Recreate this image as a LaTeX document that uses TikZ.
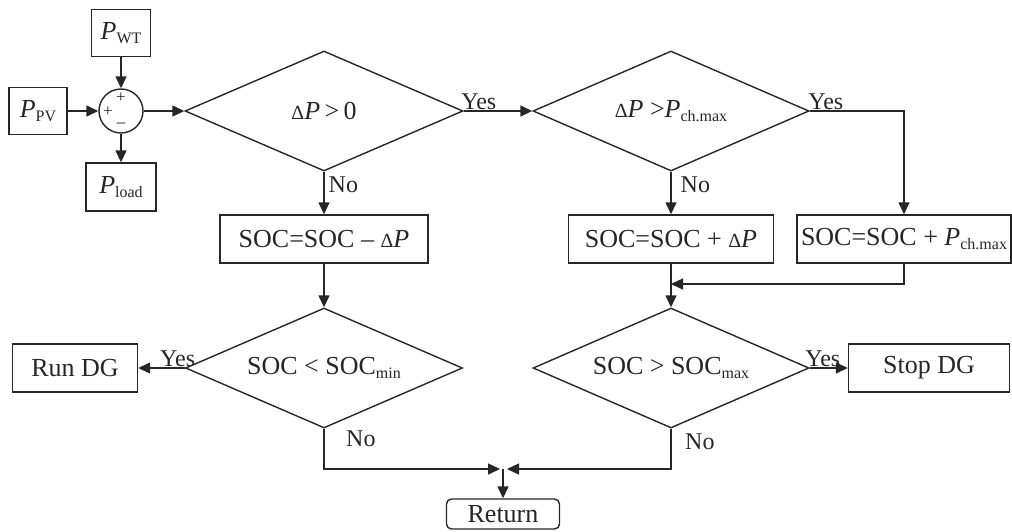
\documentclass[tikz,border=0pt]{standalone}
\usepackage{fontspec}
\setmainfont{Liberation Serif}
\usetikzlibrary{shapes.geometric,arrows.meta}

\newcommand{\lowsub}[1]{\raisebox{-0.35ex}{\fontsize{16}{16}\selectfont #1}}
\newcommand{\dlt}{{\fontsize{20}{20}\selectfont Δ}}

\tikzstyle{blk} = [draw, rectangle, inner sep=0pt, minimum height=48pt, line width=1.4pt]
\tikzstyle{cond} = [draw, diamond, inner sep=0pt, minimum width=276pt, minimum height=120pt, line width=1.4pt]
\tikzstyle{ans} = [inner sep=1pt, font=\fontsize{24}{24}\selectfont]
\tikzstyle{flow} = [-{Triangle[length=12pt,width=11pt]}, line width=1.4pt]

\begin{document}
\begin{tikzpicture}[x=1pt, y=-1pt, font=\fontsize{26}{30}\selectfont, color=black!85]
    \useasboundingbox (0,0) rectangle (1012,531);

    % power balance
    \node[draw, circle, minimum size=44pt, inner sep=0pt, line width=1.4pt] (sum) at (121,111) {};
    \node[font=\fontsize{17}{17}\selectfont] at (121,98) {+};
    \node[font=\fontsize{17}{17}\selectfont] at (108,112) {+};
    \node[font=\fontsize{17}{17}\selectfont] at (121,125) {--};
    \node[blk, minimum width=59pt, minimum height=47pt] (pwt) at (121,33) {\textit{P}\lowsub{WT}};
    \node[blk, minimum width=58pt, minimum height=47pt] (ppv) at (38,111) {\textit{P}\lowsub{PV}};
    \node[blk, minimum width=70pt] (pload) at (121,187) {\textit{P}\lowsub{load}};

    % decisions and actions
    \node[cond, minimum width=278pt] (d1) at (324,111) {\makebox[0pt]{\dlt\textit{P}\,>\,0}};
    \node[cond] (d2) at (671,111) {\makebox[0pt]{\dlt\textit{P} >\textit{P}\lowsub{ch.max}}};
    \node[blk, minimum width=208pt] (b1) at (324,239) {SOC=SOC -- \dlt\textit{P}};
    \node[blk, minimum width=205pt] (b2) at (671,239) {SOC=SOC + \dlt\textit{P}};
    \node[blk, minimum width=214pt] (b3) at (904,239) {SOC=SOC + \textit{P}\lowsub{ch.max}};
    \node[cond, minimum width=277pt] (d3) at (324,368) {\makebox[0pt]{SOC < SOC\lowsub{min}}};
    \node[cond] (d4) at (671,368) {\makebox[0pt]{SOC > SOC\lowsub{max}}};
    \node[blk, minimum width=125pt] (rundg) at (75,368) {Run DG};
    \node[blk, minimum width=161pt] (stopdg) at (929,368) {Stop DG};
    \node[draw, rounded corners=5pt, inner sep=0pt, minimum width=113pt, minimum height=30pt,
          line width=1.4pt] (ret) at (503,514) {Return};

    \coordinate (merge) at (671,284);
    \coordinate (join) at (503,469);

    % connectors
    \draw[flow] (ppv) -- (sum);
    \draw[flow] (pwt) -- (sum);
    \draw[flow] (sum) -- (pload);
    \draw[flow] (sum) -- (d1.west);
    \draw[flow] (d1.east) -- node[ans, pos=0, above right, xshift=-4pt] {Yes} (d2.west);
    \draw[flow] (d1.south) -- node[ans, pos=0, below right, xshift=3pt, yshift=-3pt] {No} (b1);
    \draw[flow] (d2.east) -| node[ans, pos=0, above right, xshift=-3pt] {Yes} (b3.north);
    \draw[flow] (d2.south) -- node[ans, pos=0, below right, xshift=8pt, yshift=-3pt] {No} (b2);
    \draw[flow] (b1) -- (d3.north);
    \draw[flow] (b2) -- (d4.north);
    \draw[flow] (b3.south) |- (merge);
    \draw[flow] (d3.west) -- node[ans, pos=0, above left, xshift=12pt] {Yes} (rundg);
    \draw[flow] (d4.east) -- node[ans, pos=0, above right, xshift=-6pt] {Yes} (stopdg);
    \draw[flow, shorten >=3pt] (d3.south) |- (join);
    \draw[flow, shorten >=4pt] (d4.south) |- (join);
    \node[ans, anchor=north west] at ([xshift=21pt, yshift=-1pt]d3.south) {No};
    \node[ans, anchor=north west] at ([xshift=13pt, yshift=-4pt]d4.south) {No};
    \draw[flow] (join) -- (ret);
\end{tikzpicture}
\end{document}
